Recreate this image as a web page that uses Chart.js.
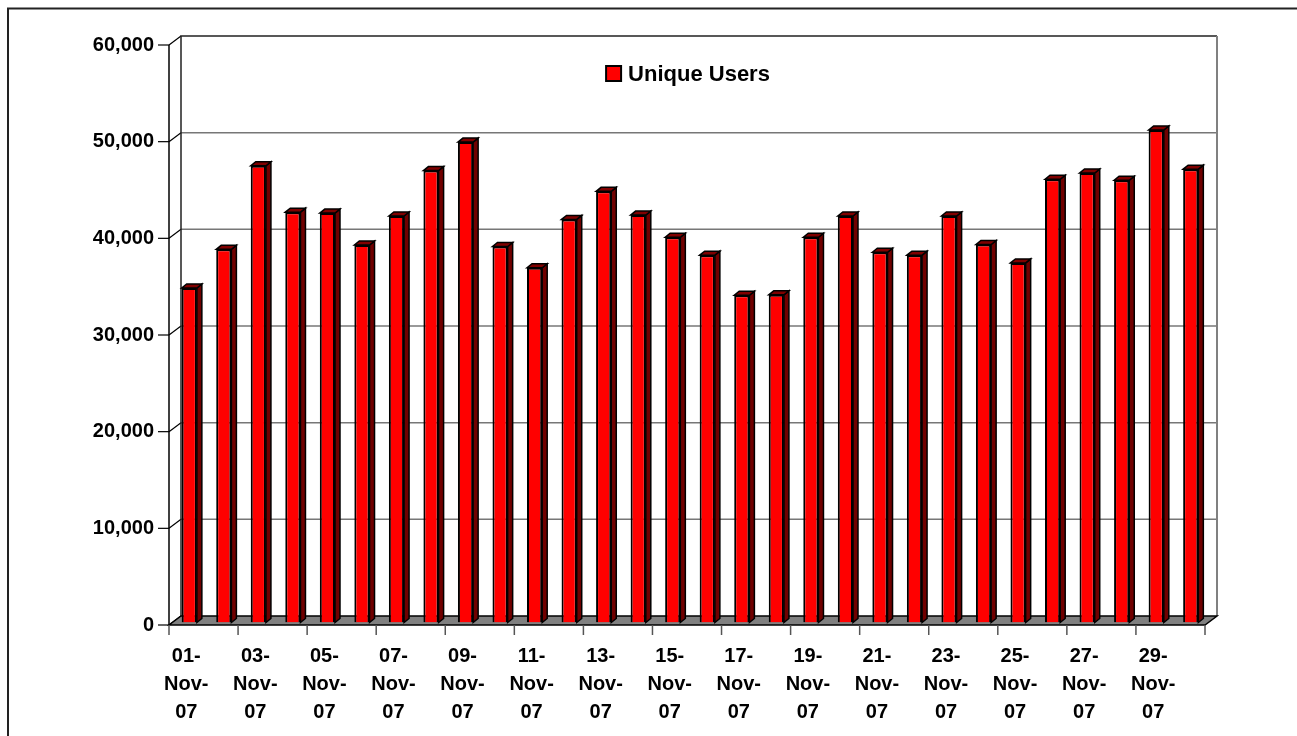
<!DOCTYPE html>
<html>
<head>
<meta charset="utf-8">
<script src="https://cdn.jsdelivr.net/npm/chart.js@4"></script>
<style>
html, body { margin: 0; padding: 0; background: #fff; }
#wrap { width: 1297px; height: 736px; }
</style>
</head>
<body>
<div id="wrap"><canvas id="usersChart" width="1297" height="736"></canvas></div>
<script>
// Daily unique users, November 2007
const days = [
    '01-Nov-07', '02-Nov-07', '03-Nov-07', '04-Nov-07', '05-Nov-07', '06-Nov-07',
    '07-Nov-07', '08-Nov-07', '09-Nov-07', '10-Nov-07', '11-Nov-07', '12-Nov-07',
    '13-Nov-07', '14-Nov-07', '15-Nov-07', '16-Nov-07', '17-Nov-07', '18-Nov-07',
    '19-Nov-07', '20-Nov-07', '21-Nov-07', '22-Nov-07', '23-Nov-07', '24-Nov-07',
    '25-Nov-07', '26-Nov-07', '27-Nov-07', '28-Nov-07', '29-Nov-07', '30-Nov-07'
];
const uniqueUsers = [
    34600, 38600, 47250, 42450, 42350, 39050, 42050, 46750, 49700, 38900,
    36700, 41700, 44600, 42150, 39850, 38000, 33850, 33900, 39850, 42050,
    38300, 38000, 42050, 39100, 37200, 45850, 46500, 45750, 50950, 46900
];
const seriesName = 'Unique Users';
const yMax = 60000;
const yStep = 10000;

const FONT = 'Liberation Sans, Arial, sans-serif';

// offsets of the front and back planes from the plane the bars stand in
const front = { x: -3, y: 2.5 };
const back = { x: 9, y: -6.5 };
const barDepth = { x: 5, y: -4 };

// Fake the old Excel 3-D look: walls, floor and the bar sides
const excel3d = {
    id: 'excel3d',
    beforeDraw(chart) {
        const ctx = chart.ctx;
        ctx.save();
        ctx.strokeStyle = '#222';
        ctx.lineWidth = 2;
        ctx.strokeRect(8, 8.5, 1400, 900);
        ctx.restore();
    },
    beforeDatasetsDraw(chart) {
        const { ctx, chartArea: a, scales: { x, y } } = chart;
        const fL = a.left + front.x, fR = a.right + front.x;
        const fT = a.top + front.y, fB = a.bottom + front.y;
        const bL = a.left + back.x, bR = a.right + back.x;
        const bT = a.top + back.y, bB = a.bottom + back.y;

        ctx.save();
        // gridlines on back wall + left wall
        y.ticks.forEach(t => {
            const py = y.getPixelForValue(t.value);
            if (t.value > 0 && t.value < yMax) {
                ctx.strokeStyle = '#777';
                ctx.lineWidth = 1.5;
                ctx.beginPath();
                ctx.moveTo(bL, py + back.y);
                ctx.lineTo(bR, py + back.y);
                ctx.stroke();
            }
            ctx.strokeStyle = '#000';
            ctx.lineWidth = 1.2;
            ctx.beginPath();
            ctx.moveTo(fL, py + front.y);
            ctx.lineTo(bL, py + back.y);
            ctx.stroke();
            // tick mark on the front axis
            ctx.beginPath();
            ctx.moveTo(fL - 11, py + front.y);
            ctx.lineTo(fL, py + front.y);
            ctx.stroke();
        });

        // back wall edges
        ctx.strokeStyle = '#222';
        ctx.lineWidth = 1.5;
        ctx.beginPath();
        ctx.moveTo(bL, bB);
        ctx.lineTo(bL, bT);
        ctx.lineTo(bR, bT);
        ctx.stroke();
        ctx.strokeStyle = '#808080';
        ctx.lineWidth = 2;
        ctx.beginPath();
        ctx.moveTo(bR, bT);
        ctx.lineTo(bR, bB);
        ctx.stroke();

        // floor
        ctx.fillStyle = '#808080';
        ctx.strokeStyle = '#000';
        ctx.lineWidth = 1.5;
        ctx.beginPath();
        ctx.moveTo(fL, fB);
        ctx.lineTo(fR, fB);
        ctx.lineTo(bR, bB);
        ctx.lineTo(bL, bB);
        ctx.closePath();
        ctx.fill();
        ctx.stroke();

        // front y axis line
        ctx.beginPath();
        ctx.moveTo(fL, fT);
        ctx.lineTo(fL, fB);
        ctx.stroke();

        // x tick marks every second day
        const step = x.getPixelForValue(1) - x.getPixelForValue(0);
        ctx.strokeStyle = '#555';
        ctx.lineWidth = 1.5;
        for (let i = 0; i <= days.length; i += 2) {
            const px = x.getPixelForValue(0) - step / 2 + i * step + front.x;
            ctx.beginPath();
            ctx.moveTo(px, fB);
            ctx.lineTo(px, fB + 10);
            ctx.stroke();
        }
        ctx.restore();
    },
    afterDatasetsDraw(chart) {
        const ctx = chart.ctx;
        const a = chart.chartArea;
        const ds = chart.data.datasets[0];
        const meta = chart.getDatasetMeta(0);
        ctx.save();
        ctx.lineWidth = 1.5;
        ctx.strokeStyle = '#000';
        meta.data.forEach(bar => {
            const p = bar.getProps(['x', 'y', 'base', 'width'], true);
            const l = p.x - p.width / 2, r = p.x + p.width / 2;
            // side
            ctx.fillStyle = '#700000';
            ctx.beginPath();
            ctx.moveTo(r, p.y);
            ctx.lineTo(r + barDepth.x, p.y + barDepth.y);
            ctx.lineTo(r + barDepth.x, p.base + barDepth.y);
            ctx.lineTo(r, p.base);
            ctx.closePath();
            ctx.fill();
            ctx.stroke();
            // top
            ctx.fillStyle = '#800000';
            ctx.beginPath();
            ctx.moveTo(l, p.y);
            ctx.lineTo(l + barDepth.x, p.y + barDepth.y);
            ctx.lineTo(r + barDepth.x, p.y + barDepth.y);
            ctx.lineTo(r, p.y);
            ctx.closePath();
            ctx.fill();
            ctx.stroke();
        });

        // legend, sitting inside the plot like Excel puts it
        ctx.font = 'bold 22px ' + FONT;
        const textW = ctx.measureText(ds.label).width;
        const box = 15, gap = 7;
        const total = box + gap + textW;
        const lx = (a.left + a.right) / 2 - total / 2 - 2;
        const ly = a.top + 31;
        ctx.fillStyle = ds.backgroundColor;
        ctx.fillRect(lx, ly - box / 2, box, box);
        ctx.lineWidth = 2;
        ctx.strokeRect(lx, ly - box / 2, box, box);
        ctx.fillStyle = '#000';
        ctx.textBaseline = 'middle';
        ctx.textAlign = 'left';
        ctx.fillText(ds.label, lx + box + gap, ly + 1);
        ctx.restore();
    }
};

const ctx = document.getElementById('usersChart').getContext('2d');
new Chart(ctx, {
    type: 'bar',
    data: {
        labels: days,
        datasets: [{
            label: seriesName,
            data: uniqueUsers,
            backgroundColor: '#ff0000',
            borderColor: '#000',
            borderWidth: 2,
            categoryPercentage: 1,
            barPercentage: 0.44
        }]
    },
    options: {
        responsive: false,
        animation: false,
        devicePixelRatio: 1,
        layout: { padding: { top: 42.5, right: 89, left: 0, bottom: 0 } },
        plugins: {
            legend: { display: false },
            tooltip: { enabled: false }
        },
        scales: {
            x: {
                grid: { display: false, drawTicks: false },
                border: { display: false },
                ticks: {
                    autoSkip: false,
                    maxRotation: 0,
                    padding: 20,
                    labelOffset: front.x,
                    color: '#000',
                    font: { family: FONT, size: 20, weight: 'bold', lineHeight: 1.4 },
                    callback(value, index) {
                        if (index % 2 !== 0) return '';
                        const parts = days[index].split('-');
                        return [parts[0] + '-', parts[1] + '-', parts[2]];
                    }
                },
                afterFit(scale) { scale.height = 113.5; }
            },
            y: {
                min: 0,
                max: yMax,
                grid: { display: false, drawTicks: false },
                border: { display: false },
                ticks: {
                    stepSize: yStep,
                    padding: 18,
                    labelOffset: front.y,
                    color: '#000',
                    font: { family: FONT, size: 20, weight: 'bold' },
                    callback: v => v.toLocaleString('en-US')
                },
                afterFit(scale) { scale.width = 172; }
            }
        }
    },
    plugins: [excel3d]
});
</script>
</body>
</html>
